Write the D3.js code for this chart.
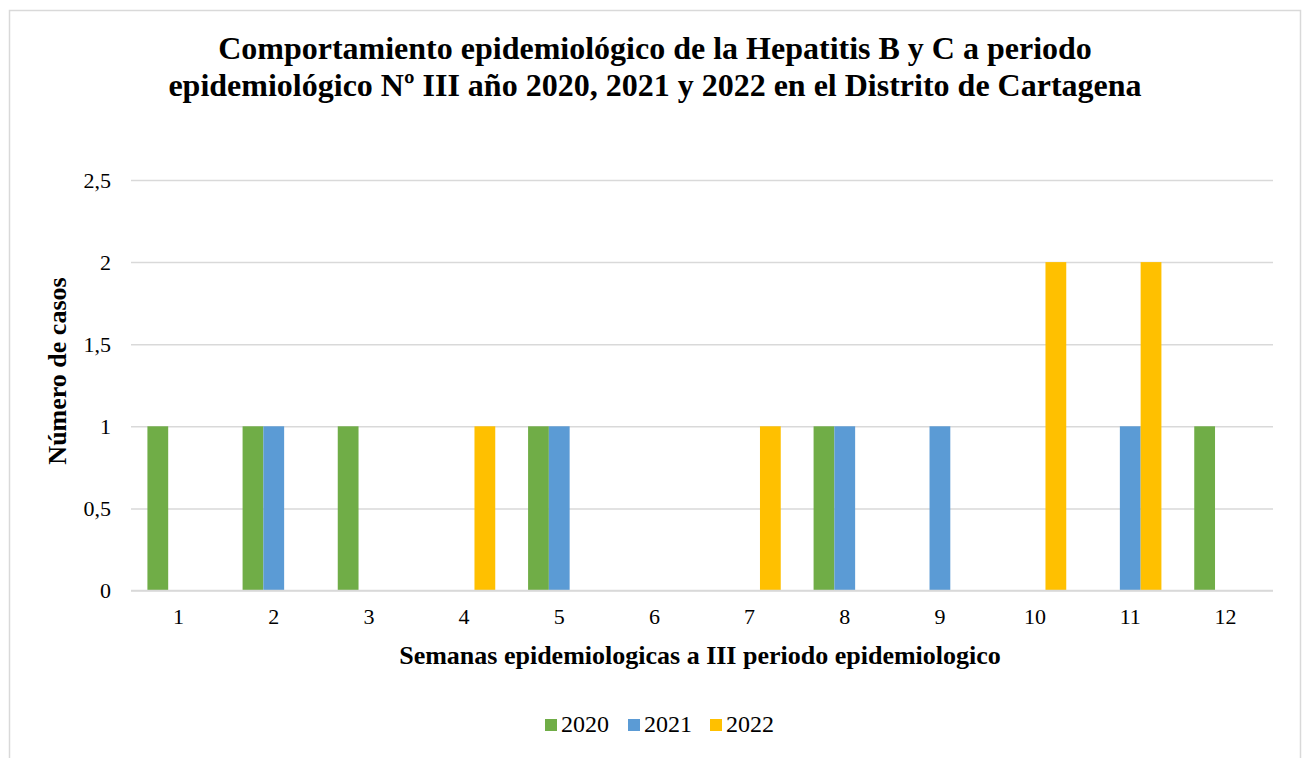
<!DOCTYPE html>
<html>
<head>
<meta charset="utf-8">
<script src="https://cdn.jsdelivr.net/npm/d3@7"></script>
<style>
  html, body { margin: 0; padding: 0; background: #fff; }
  svg { display: block; }
  text { font-family: "Liberation Serif", "Times New Roman", serif; fill: #000; }
</style>
</head>
<body>
<svg id="chart" width="1302" height="758"></svg>
<script>
const categories = ["1","2","3","4","5","6","7","8","9","10","11","12"];
const seriesNames = ["2020","2021","2022"];
const values2020 = [1,1,1,0,1,0,0,1,0,0,0,1];
const values2021 = [0,1,0,0,1,0,0,1,1,0,1,0];
const values2022 = [0,0,0,1,0,0,1,0,0,2,2,0];
const yTicks = [0,0.5,1,1.5,2,2.5];
const colors = ["#70AD47","#5B9BD5","#FFC000"];
const titleLines = ["Comportamiento epidemiológico de la Hepatitis B y C a periodo",
                    "epidemiológico Nº III año 2020, 2021 y 2022 en el Distrito de Cartagena"];
const yTitle = "Número de casos";
const xTitle = "Semanas epidemiologicas a III periodo epidemiologico";

const seriesValues = [values2020, values2021, values2022];
const svg = d3.select("#chart");

// frame
svg.append("rect").attr("x",9.5).attr("y",10.5).attr("width",1291).attr("height",760)
  .attr("fill","#fff").attr("stroke","#D9D9D9").attr("stroke-width",1.5);

const plot = {left:131, right:1273, top:180, bottom:590.5};

const x0 = d3.scaleBand().domain(categories).range([plot.left, plot.right]).padding(0);
const gapRatio = 0.345;
const x1 = d3.scaleBand().domain(seriesNames)
  .range([x0.bandwidth()*gapRatio/2, x0.bandwidth()*(1-gapRatio/2)]).padding(0);
const y = d3.scaleLinear().domain([0,2.5]).range([plot.bottom, plot.top]);

// gridlines
const yAxis = d3.axisLeft(y).tickValues(yTicks)
  .tickSize(-(plot.right-plot.left)).tickPadding(20)
  .tickFormat(d => String(d).replace(".", ","));
const gy = svg.append("g").attr("transform",`translate(${plot.left},0)`).call(yAxis);
gy.select(".domain").remove();
gy.selectAll(".tick line").attr("stroke","#D9D9D9").attr("stroke-width",1.5);
gy.selectAll(".tick text").attr("font-size",22).attr("font-family","Liberation Serif").attr("fill","#000");

// bars
const rows = categories.map((c,i) => ({cat:c, vals: seriesNames.map((s,j)=>({s, v:seriesValues[j][i], j}))}));
const groups = svg.append("g").selectAll("g").data(rows).join("g")
  .attr("transform", d => `translate(${x0(d.cat)},0)`);
groups.selectAll("rect").data(d => d.vals.filter(e => e.v > 0)).join("rect")
  .attr("x", d => x1(d.s)).attr("width", x1.bandwidth())
  .attr("y", d => y(d.v)).attr("height", d => y(0)-y(d.v))
  .attr("fill", d => colors[d.j]);

svg.append("line").attr("x1",plot.left).attr("x2",plot.right).attr("y1",y(0)).attr("y2",y(0))
  .attr("stroke","#D9D9D9").attr("stroke-width",1.5);

// x axis labels
const xAxis = d3.axisBottom(x0).tickSize(0).tickPadding(18);
const gx = svg.append("g").attr("transform",`translate(0,${plot.bottom})`).call(xAxis);
gx.select(".domain").remove();
gx.selectAll(".tick text").attr("font-size",22).attr("font-family","Liberation Serif").attr("fill","#000");

// title
svg.append("g").selectAll("text").data(titleLines).join("text")
  .attr("x", 655).attr("y", (d,i) => 59 + i*37)
  .attr("text-anchor","middle").attr("font-size",32).attr("font-weight","bold")
  .text(d => d);

// axis titles
svg.append("text").attr("transform",`translate(66,371) rotate(-90)`)
  .attr("text-anchor","middle").attr("font-size",26).attr("font-weight","bold").text(yTitle);
svg.append("text").attr("x",700).attr("y",664)
  .attr("text-anchor","middle").attr("font-size",26).attr("font-weight","bold").text(xTitle);

// legend
const legendX = [545, 628, 710];
const lg = svg.append("g").selectAll("g").data(seriesNames).join("g")
  .attr("transform",(d,i)=>`translate(${legendX[i]},719)`);
lg.append("rect").attr("width",12).attr("height",12).attr("fill",(d,i)=>colors[i]);
lg.append("text").attr("x",16).attr("y",13).attr("font-size",24).text(d=>d);
</script>
</body>
</html>
